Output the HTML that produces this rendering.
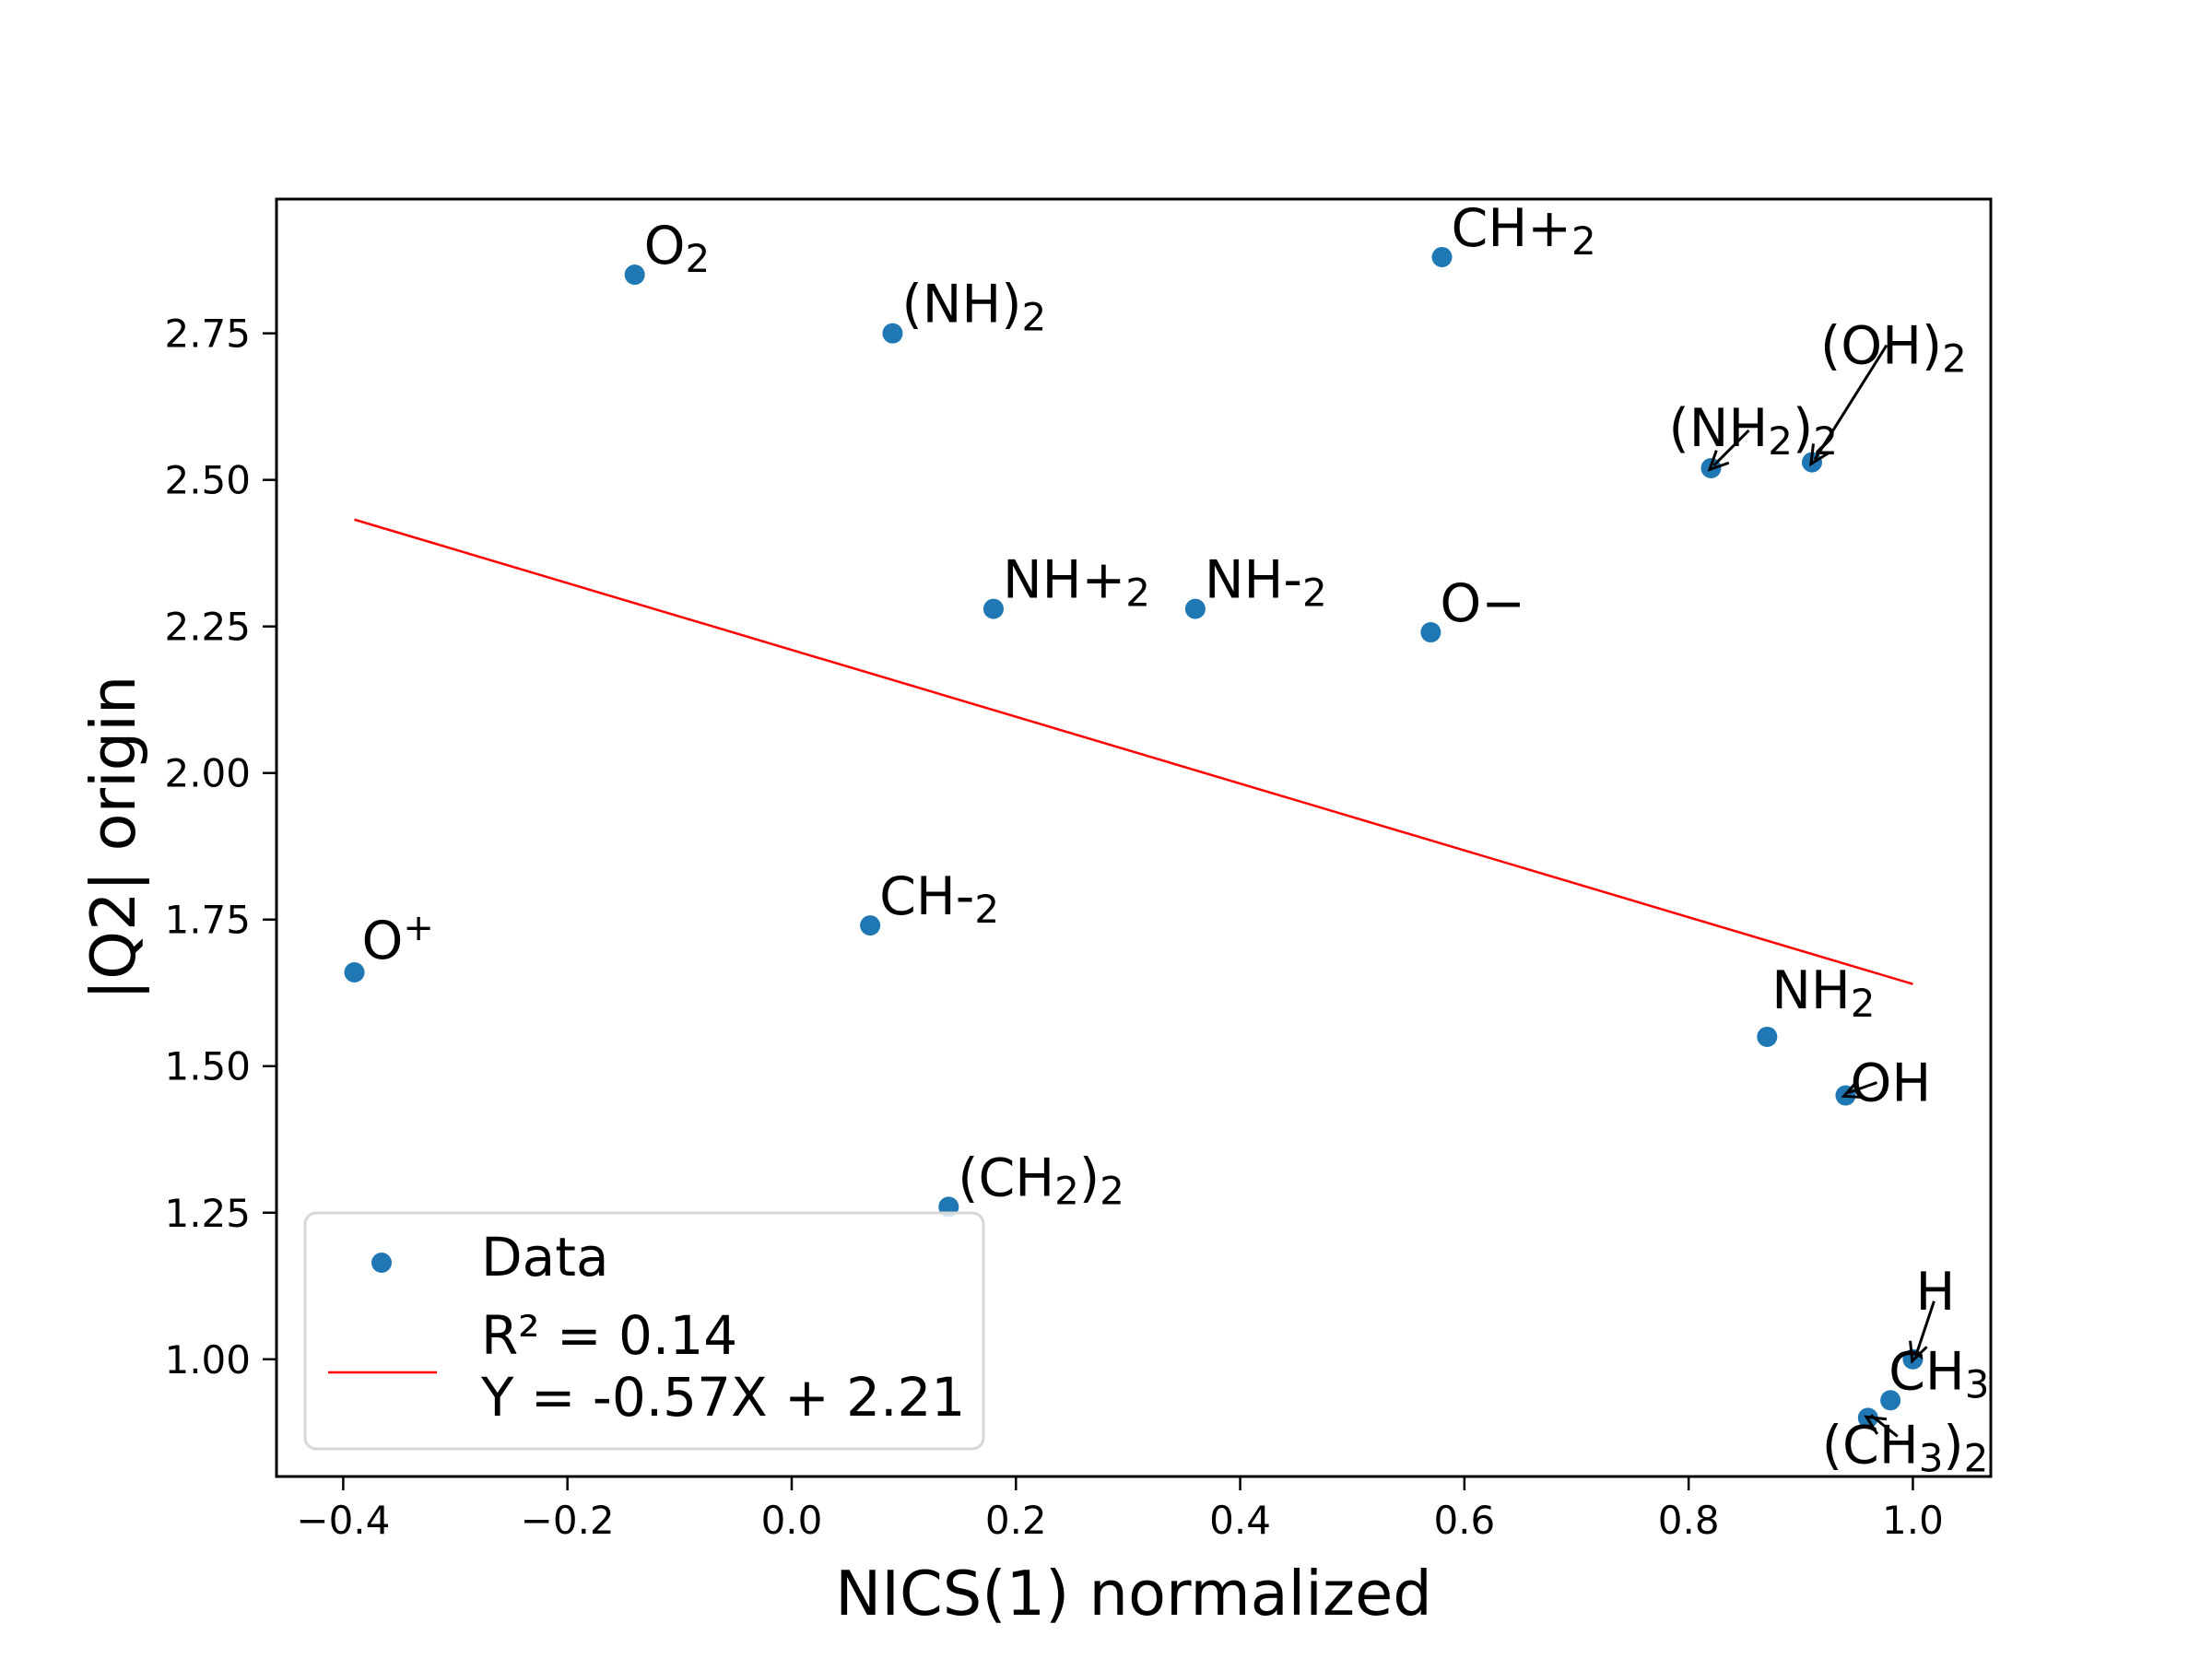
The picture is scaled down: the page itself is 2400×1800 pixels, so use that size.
<!DOCTYPE html>
<html><head><meta charset="utf-8"><style>html,body{margin:0;padding:0;background:#fff}svg{display:block}text{font-family:"DejaVu Sans","Liberation Sans",sans-serif;fill:#000}</style></head>
<body>
<svg id="chart" width="2400" height="1800" viewBox="0 0 2400 1800" xmlns="http://www.w3.org/2000/svg">
<rect x="0" y="0" width="2400" height="1800" fill="#fff"/>
<g id="plot"></g>
</svg>
<script>
const labels = ["O+","O2","(NH)2","CH-2","(CH2)2","NH+2","NH-2","O−","CH+2","(NH2)2","(OH)2","NH2","OH","H","CH3","(CH3)2"];
const xValues = [-0.39,-0.14,0.09,0.07,0.14,0.18,0.36,0.57,0.58,0.82,0.91,0.87,0.94,1.0,0.98,0.96];
const yValues = [1.66,2.85,2.75,1.74,1.26,2.28,2.28,2.24,2.88,2.52,2.53,1.55,1.45,1.0,0.93,0.90];
const xTicks = [-0.4,-0.2,0.0,0.2,0.4,0.6,0.8,1.0];
const xTickLabels = ["−0.4","−0.2","0.0","0.2","0.4","0.6","0.8","1.0"];
const yTicks = [1.0,1.25,1.5,1.75,2.0,2.25,2.5,2.75];
const yTickLabels = ["1.00","1.25","1.50","1.75","2.00","2.25","2.50","2.75"];
const slope = -0.57;
const intercept = 2.21;

const L=300,R=2160,T=216,B=1602;
const xmin=-0.4595,xmax=1.0695,ymin=0.80,ymax=2.979;
const sx=v=>L+(v-xmin)/(xmax-xmin)*(R-L);
const sy=v=>B-(v-ymin)/(ymax-ymin)*(B-T);
const NS="http://www.w3.org/2000/svg";
const g=document.getElementById('plot');
function mk(tag,attrs,parent){const e=document.createElementNS(NS,tag);for(const k in attrs)e.setAttribute(k,attrs[k]);(parent||g).appendChild(e);return e;}

const offs={"O+":[8,-15],"(NH2)2":[-46,-24,41,-41],"(OH)2":[9,-107,81,-127],"NH2":[5,-31],"OH":[5,6,34,-14],"H":[3,-54,23,-63],"CH3":[-2,-12],"(CH3)2":[-50,49,32,20]};

const fx0=Math.min(...xValues), fx1=Math.max(...xValues);
let fl=mk('line',{x1:sx(fx0),y1:sy(slope*fx0+intercept),x2:sx(fx1),y2:sy(slope*fx1+intercept),stroke:'#ff0000','stroke-width':2.5});



xValues.forEach((x,i)=>{
  const c=mk('circle',{cx:sx(x),cy:sy(yValues[i]),r:11,fill:'#1f77b4'});
  
  
});

function addLabel(lbl,x,y){
  const t=mk('text',{x:x,y:y,'font-size':57});
  
  
  if(lbl==="O+"){t.appendChild(document.createTextNode("O"));const s=mk('tspan',{dy:-20,'font-size':40},t);s.textContent="+";return;}
  let parts=lbl.split(/(\d)/);
  let low=false;
  parts.forEach(p=>{
    if(p==="")return;
    if(/^\d$/.test(p)){const s=mk('tspan',{dy:low?0:9,'font-size':42},t);s.textContent=p;low=true;}
    else{const s=mk('tspan',{dy:low?-9:0},t);s.textContent=p;low=false;}
  });
}
labels.forEach((lbl,i)=>{
  const px=sx(xValues[i]),py=sy(yValues[i]);
  const o=offs[lbl]||[10,-12];
  addLabel(lbl,px+o[0],py+o[1]);
  if(o.length>2){
    const ax=px+o[2],ay=py+o[3];
    const a=mk('line',{x1:ax,y1:ay,x2:px+3,y2:py-3,stroke:'#000','stroke-width':3});
    
    
    const ang=Math.atan2(py-ay,px-ax);const hx=px+2*Math.cos(ang),hy=py+2*Math.sin(ang);
    const h=mk('polyline',{points:`${hx-22*Math.cos(ang-0.45)},${hy-22*Math.sin(ang-0.45)} ${hx},${hy} ${hx-22*Math.cos(ang+0.45)},${hy-22*Math.sin(ang+0.45)}`,fill:'none',stroke:'#000','stroke-width':3});
    
    
  }
});

const fr=mk('rect',{x:L,y:T,width:R-L,height:B-T,fill:'none',stroke:'#000','stroke-width':3});



xTicks.forEach((v,i)=>{
  const x=sx(v);
  const tk=mk('line',{x1:x,y1:B,x2:x,y2:B+15,stroke:'#000','stroke-width':2.5});
  
  
  const t=mk('text',{x:x,y:B+62,'font-size':42,'text-anchor':'middle'});
  
  
  t.textContent=xTickLabels[i];
});
yTicks.forEach((v,i)=>{
  const y=sy(v);
  const tk=mk('line',{x1:L-15,y1:y,x2:L,y2:y,stroke:'#000','stroke-width':2.5});
  
  
  const t=mk('text',{x:L-28,y:y+15,'font-size':42,'text-anchor':'end'});
  
  
  t.textContent=yTickLabels[i];
});

const xl=mk('text',{x:(L+R)/2,y:1752,'font-size':67,'text-anchor':'middle'});


xl.textContent="NICS(1) normalized";
const yl=mk('text',{x:0,y:0,'font-size':67,'text-anchor':'middle',transform:`translate(146,${(T+B)/2}) rotate(-90)`});


yl.textContent="|Q2| origin";

const lg=mk('g',{});


mk('rect',{x:331,y:1316,width:736,height:256,rx:12,fill:'#fff','fill-opacity':0.8,stroke:'#d6d6d6','stroke-width':3},lg);
const lm=mk('circle',{cx:414,cy:1383-13,r:11,fill:'#1f77b4'},lg);


const lt=mk('text',{x:522,y:1399-15,'font-size':58},lg);


lt.textContent="Data";
const ll=mk('line',{x1:356,y1:1504-15,x2:474,y2:1504-15,stroke:'#ff0000','stroke-width':2.5},lg);


const lt2=mk('text',{x:522,y:1482-13,'font-size':58},lg);


lt2.textContent="R² = 0.14";
const lt3=mk('text',{x:522,y:1549-13,'font-size':58},lg);


lt3.textContent="Y = "+slope.toFixed(2)+"X + "+intercept.toFixed(2);
</script>
</body></html>
